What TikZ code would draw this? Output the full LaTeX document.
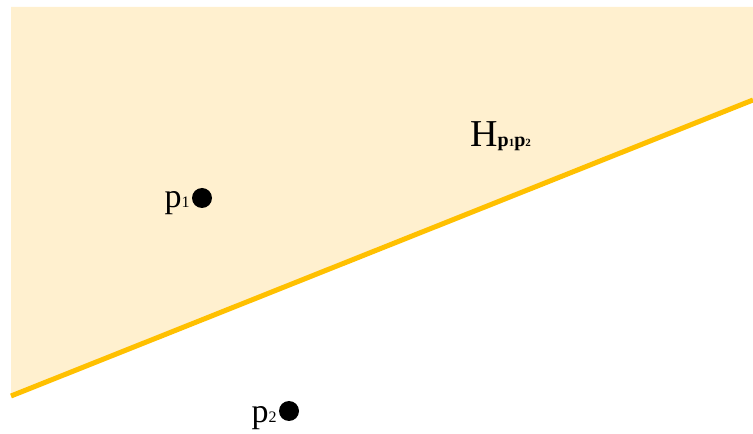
\documentclass[tikz,border=0pt]{standalone}
\usepackage{fontspec}
\setmainfont{Liberation Serif}
\usetikzlibrary{positioning}
\definecolor{jaunepale}{RGB}{255,240,207}
\definecolor{orangeligne}{RGB}{255,192,0}
\newcommand{\petit}[1]{{\fontsize{16}{16}\selectfont #1}}
\newcommand{\minus}[1]{{\fontsize{11}{11}\selectfont #1}}

\begin{document}
\begin{tikzpicture}[x=1pt, y=1pt,
    point/.style={circle, fill=black, inner sep=0pt, minimum size=20pt},
    etiquette/.style={font=\fontsize{34}{36}\selectfont, inner sep=0pt},
    frontiere/.style={draw=orangeligne, line width=5pt}]
  \useasboundingbox (0,0) rectangle (753,434);
  % demi-plan
  \coordinate (g) at (11,38);
  \coordinate (d) at (753,334);
  \fill[jaunepale] (11,427) -- (753,427) -- (d) -- (g) -- cycle;
  \draw[frontiere] (g) -- (d);
  % points
  \node[point] (p1) at (202,236) {};
  \node[point] (p2) at (289,23) {};
  \node[etiquette, left=2pt of p1, anchor=base east, yshift=-10pt] (l1) {p\petit{1}};
  \node[etiquette, left=2pt of p2, anchor=base east, yshift=-12pt] (l2) {p\petit{2}};
  \node[font=\fontsize{38}{40}\selectfont, inner sep=0pt, anchor=base west] (h) at (470,287)
    {H\textbf{\fontsize{20}{20}\selectfont p\minus{1}p\minus{2}}};
\end{tikzpicture}
\end{document}
